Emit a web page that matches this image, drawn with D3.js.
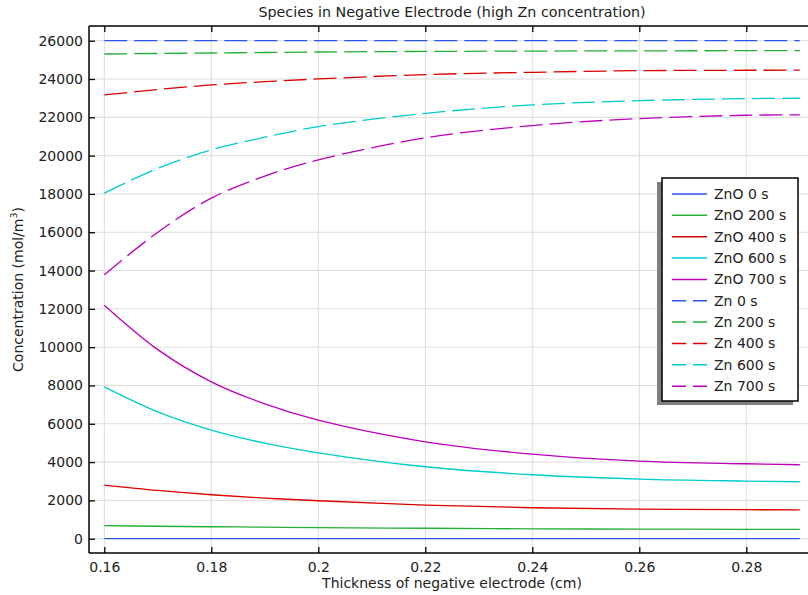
<!DOCTYPE html>
<html><head><meta charset="utf-8">
<script src="https://cdn.jsdelivr.net/npm/d3@7"></script>
<style>body{margin:0;background:#fff;} svg{display:block;font-family:"DejaVu Sans",sans-serif;}</style>
</head><body>
<svg id="c" width="808" height="595"></svg>
<script>
const xValues = [0.16, 0.17, 0.18, 0.19, 0.20, 0.22, 0.24, 0.26, 0.28, 0.29];
const znO0   = [0, 0, 0, 0, 0, 0, 0, 0, 0, 0];
const znO200 = [680, 650, 625, 600, 575, 545, 515, 500, 490, 488];
const znO400 = [2800, 2520, 2295, 2120, 1982, 1758, 1617, 1549, 1513, 1510];
const znO600 = [7930, 6620, 5670, 4990, 4486, 3756, 3339, 3114, 3010, 2973];
const znO700 = [12190, 9870, 8190, 7040, 6190, 5060, 4418, 4053, 3912, 3860];
const zn0    = [26000, 26000, 26000, 26000, 26000, 26000, 26000, 26000, 26000, 26000];
const zn200  = [25306, 25332, 25358, 25385, 25410, 25440, 25458, 25470, 25478, 25480];
const zn400  = [23167, 23450, 23689, 23860, 24002, 24230, 24350, 24435, 24456, 24460];
const zn600  = [18040, 19340, 20300, 20960, 21515, 22210, 22645, 22870, 22975, 22995];
const zn700  = [13778, 16000, 17779, 18930, 19777, 20928, 21570, 21935, 22108, 22130];
const seriesNames = ["ZnO 0 s","ZnO 200 s","ZnO 400 s","ZnO 600 s","ZnO 700 s","Zn 0 s","Zn 200 s","Zn 400 s","Zn 600 s","Zn 700 s"];
const seriesValues = [znO0, znO200, znO400, znO600, znO700, zn0, zn200, zn400, zn600, zn700];
const seriesColors = ["#2f55f0","#22b034","#dd0000","#00cccc","#bb00bb","#2f55f0","#22b034","#dd0000","#00cccc","#bb00bb"];
const seriesDashed = [false,false,false,false,false,true,true,true,true,true];
const xTicks = [0.16, 0.18, 0.2, 0.22, 0.24, 0.26, 0.28];
const yTicks = [0,2000,4000,6000,8000,10000,12000,14000,16000,18000,20000,22000,24000,26000];
const titleText = "Species in Negative Electrode (high Zn concentration)";
const xLabel = "Thickness of negative electrode (cm)";

const svg = d3.select("#c");
const L = 89, R = 815, T = 26, B = 553;
const x = d3.scaleLinear().domain([0.16, 0.28]).range([104.3, 746.3]);
const y = d3.scaleLinear().domain([0, 26000]).range([538.7, 40.7]);

svg.append("defs").append("clipPath").attr("id","pc")
  .append("rect").attr("x",L).attr("y",T).attr("width",R-L).attr("height",B-T);

// grid
const grid = svg.append("g");
grid.selectAll("line.gx").data(xTicks).enter().append("line")
  .attr("x1",d=>x(d)).attr("x2",d=>x(d)).attr("y1",T).attr("y2",B)
  .attr("stroke","#dcdcdc").attr("stroke-width",1);
grid.selectAll("line.gy").data(yTicks).enter().append("line")
  .attr("x1",L).attr("x2",R).attr("y1",d=>y(d)).attr("y2",d=>y(d))
  .attr("stroke","#dcdcdc").attr("stroke-width",1);

// lines
const lineGen = d3.line().curve(d3.curveCatmullRom.alpha(0.5));
const lines = svg.append("g").attr("clip-path","url(#pc)");
seriesValues.forEach((vals,i)=>{
  lines.append("path")
    .attr("d", lineGen(xValues.map((xv,j)=>[x(xv), y(vals[j])])))
    .attr("fill","none").attr("stroke",seriesColors[i]).attr("stroke-width",1.3)
    .attr("stroke-dasharray", seriesDashed[i] ? "23,7" : null);
});

// axes (ticks inward)
const xb = svg.append("g").attr("transform",`translate(0,${B})`)
  .call(d3.axisBottom(x).tickValues(xTicks).tickSize(-6).tickPadding(9).tickFormat(d3.format("")));
const xt = svg.append("g").attr("transform",`translate(0,${T})`)
  .call(d3.axisTop(x).tickValues(xTicks).tickSize(-6).tickFormat(""));
const yl = svg.append("g").attr("transform",`translate(${L},0)`)
  .call(d3.axisLeft(y).tickValues(yTicks).tickSize(-6).tickPadding(6).tickFormat(d3.format("d")));
[xb,xt,yl].forEach(g=>{
  g.select(".domain").remove();
  g.selectAll(".tick line").attr("stroke","#000").attr("stroke-width",1.3);
  g.selectAll("text").attr("font-size",14).attr("fill","#222").attr("font-family","DejaVu Sans, sans-serif");
});
// outer frame lines
svg.append("line").attr("x1",L).attr("x2",L).attr("y1",T).attr("y2",B).attr("stroke","#000").attr("stroke-width",1.5);
svg.append("line").attr("x1",L).attr("x2",R).attr("y1",B).attr("y2",B).attr("stroke","#000").attr("stroke-width",1.5);
svg.append("line").attr("x1",L).attr("x2",R).attr("y1",T).attr("y2",T).attr("stroke","#000").attr("stroke-width",1.5);

// title and labels
svg.append("text").attr("x",452).attr("y",17).attr("text-anchor","middle")
  .attr("font-size",14.3).attr("fill","#222").text(titleText);
svg.append("text").attr("x",452).attr("y",588).attr("text-anchor","middle")
  .attr("font-size",14).attr("fill","#222").text(xLabel);
const yt = svg.append("text").attr("transform","translate(23,289.5) rotate(-90)")
  .attr("text-anchor","middle").attr("font-size",14).attr("fill","#222");
yt.append("tspan").text("Concentration (mol/m");
yt.append("tspan").attr("font-size",9.5).attr("dy",-6).text("3");
yt.append("tspan").attr("dy",6).text(")");

// legend
const lg = svg.append("g");
lg.append("rect").attr("x",657).attr("y",182).attr("width",136).attr("height",223).attr("fill","#808080");
lg.append("rect").attr("x",662).attr("y",178).attr("width",136).attr("height",223)
  .attr("fill","#fff").attr("stroke","#000").attr("stroke-width",1.5);
seriesNames.forEach((n,i)=>{
  const yy = 194 + i*21.35;
  lg.append("line").attr("x1",672).attr("x2",707).attr("y1",yy).attr("y2",yy)
    .attr("stroke",seriesColors[i]).attr("stroke-width",1.5)
    .attr("stroke-dasharray", seriesDashed[i] ? "14,7" : null);
  lg.append("text").attr("x",714).attr("y",yy+5).attr("font-size",14).attr("fill","#222").text(n);
});
</script>
</body></html>
